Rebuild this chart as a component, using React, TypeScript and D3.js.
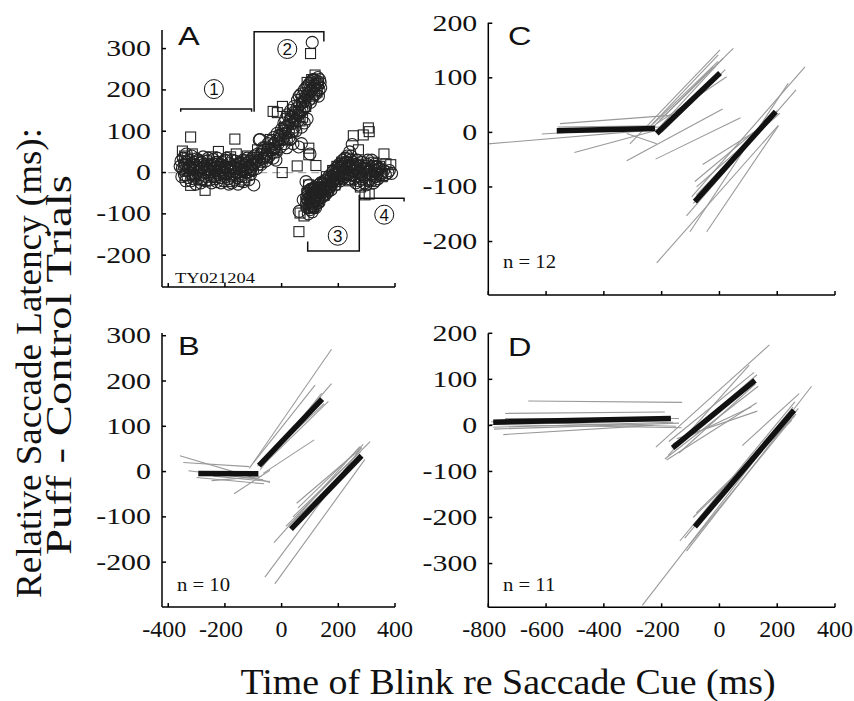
import * as d3 from "d3";

// ---- tick values ----
const xTicksAB = [-400, -200, 0, 200, 400];
const xTicksCD = [-800, -600, -400, -200, 0, 200, 400];
const yTicksA = [300, 200, 100, 0, -100, -200];
const yTicksB = [300, 200, 100, 0, -100, -200];
const yTicksC = [200, 100, 0, -100, -200];
const yTicksD = [200, 100, 0, -100, -200, -300];

// ---- panel A: single session scatter (x = blink time, y = latency diff) ----
const aCircles: [number, number][] = [
  [-355, 28], [-350, 10], [-347, 35], [-343, -5], [-340, 20], [-336, 45], [-333, 5], [-330, -12], [-327, 30], [-324, 15],
  [-320, -20], [-317, 40], [-313, 8], [-310, 25], [-306, -8], [-303, 18], [-300, 33], [-296, -15], [-292, 5], [-289, 22],
  [-285, -25], [-281, 12], [-277, 38], [-273, 0], [-270, 15], [-265, -10], [-261, 28], [-257, 6], [-253, -18], [-249, 20],
  [-245, 2], [-241, 32], [-237, -8], [-233, 14], [-229, -22], [-225, 25], [-221, 4], [-216, -12], [-212, 18], [-208, 8],
  [-204, -20], [-200, 30], [-196, 0], [-192, 12], [-188, -15], [-184, 22], [-180, 5], [-176, -25], [-172, 15], [-168, -5],
  [-164, 28], [-160, 10], [-156, -12], [-152, 20], [-148, 2], [-144, -20], [-140, 15], [-136, 30], [-132, 5], [-128, -10],
  [-124, 22], [-120, 12], [-116, -18], [-112, 28], [-108, 8], [-104, 35], [-98, -30],
  [-358, 15], [-352, -10], [-345, 5], [-338, -20], [-335, 25], [-329, 12], [-322, -2], [-318, 22], [-311, -15], [-307, 10],
  [-302, -28], [-298, 0], [-294, 30], [-287, -5], [-283, 25], [-279, -15], [-275, 20], [-268, -20], [-263, 10], [-259, 35],
  [-255, -5], [-251, 15], [-247, -25], [-243, 10], [-239, 20], [-235, -15], [-231, 5], [-227, 35], [-223, -5], [-218, 12],
  [-214, -25], [-210, 25], [-206, 0], [-202, 15], [-198, -10], [-194, 35], [-190, 5], [-186, -28], [-182, 12], [-178, -8],
  [-174, 30], [-170, 2], [-166, -18], [-162, 18], [-158, 0], [-154, -28], [-150, 10], [-146, 25], [-142, -8], [-138, 5],
  [-134, -22], [-130, 18], [-126, 0], [-122, 35], [-118, 2], [-114, 15], [-110, -5], [-106, 20], [-102, 5],
  [-100, 18], [-96, 40], [-92, 25], [-88, 10], [-84, 45], [-80, 30], [-76, 80], [-72, 20], [-68, 50], [-64, 35],
  [-60, 60], [-56, 28], [-52, 45], [-48, 70], [-44, 40], [-40, 55], [-36, 65], [-32, 48], [-28, 85], [-24, 60],
  [-20, 75], [-16, 95], [-12, 70], [-8, 90], [-4, 62], [0, 105], [4, 80], [8, 120], [12, 95], [16, 110],
  [20, 140], [24, 100], [28, 125], [32, 150], [36, 118], [40, 135], [44, 160], [48, 128], [52, 145], [56, 175],
  [60, 140], [64, 165], [68, 190], [72, 150], [76, 170], [80, 200], [84, 160], [88, 185], [92, 210], [96, 175],
  [100, 195], [104, 220], [108, 180], [112, 205], [116, 225], [120, 190], [124, 215], [128, 230], [132, 200], [136, 218],
  [-20, 30], [10, 70], [30, 80], [50, 100], [70, 110], [90, 130], [60, 62], [100, 45], [108, 315], [-79, 79],
  [-90, 35], [-82, 20], [-74, 45], [-66, 60], [-58, 40], [-50, 55], [-42, 75], [-34, 55], [-26, 70], [-18, 50],
  [-10, 80], [-2, 85], [6, 100], [14, 130], [22, 115], [26, 85], [34, 135], [38, 100], [42, 145], [46, 110],
  [54, 155], [58, 125], [62, 185], [66, 145], [74, 185], [78, 155], [82, 175], [86, 205], [94, 190], [98, 215],
  [102, 170], [106, 200], [110, 225], [114, 190], [118, 210], [122, 200], [126, 220], [130, 185], [134, 225], [138, 205],
  [18, 60], [40, 70], [-30, 35], [80, 120], [70, 70],
  [86, -22], [88, -60], [90, -85], [92, -45], [94, -100], [96, -70], [98, -30], [100, -90], [102, -55], [104, -75],
  [106, -40], [108, -95], [110, -62], [112, -80], [114, -50], [116, -70], [118, -35], [120, -85], [122, -58], [124, -45],
  [126, -68], [128, -52], [130, -30], [132, -72], [135, -48], [138, -25], [141, -60], [144, -40], [147, -55], [150, -20],
  [153, -45], [156, -30], [159, -50], [162, -15], [165, -35], [168, -8], [171, -28], [174, -42], [177, -10], [180, -22],
  [183, 5], [186, -15], [189, -30], [192, 2], [195, -12], [198, 15], [201, -5], [204, 10], [207, -20], [210, 20],
  [213, 0], [216, 30], [219, 8], [222, -10], [225, 25], [228, 12], [231, 40], [234, -5], [237, 18], [240, 50],
  [243, 30], [246, 5], [249, 68], [252, 20], [255, -15], [62, -94], [76, -66],
  [88, -75], [91, -65], [95, -50], [97, -85], [99, -60], [101, -75], [103, -40], [105, -62], [107, -80], [109, -50],
  [111, -70], [113, -40], [115, -85], [117, -55], [119, -65], [121, -45], [123, -75], [125, -55], [127, -38], [129, -62],
  [131, -45], [134, -60], [137, -38], [140, -50], [143, -28], [146, -45], [149, -35], [152, -55], [155, -20], [158, -38],
  [161, -28], [164, -45], [167, -20], [170, -35], [173, -15], [176, -30], [179, 0], [182, -20], [185, -5], [188, -18],
  [191, 10], [194, -20], [197, 0], [200, -15], [203, 20], [206, 5], [209, -8], [212, 15], [215, -15], [218, 20],
  [221, 0], [224, 35], [227, -5], [230, 15], [233, 25], [236, 0], [239, -15], [242, 15], [245, 40], [248, -5],
  [251, 25], [254, 5],
  [258, 10], [262, -25], [266, 30], [270, 0], [274, -20], [278, 15], [282, -5], [286, 25], [290, -10], [294, 8],
  [298, -30], [302, 20], [306, 0], [310, -15], [314, 12], [318, 30], [322, -8], [326, 5], [330, -20], [334, 15],
  [338, -2], [342, 8], [350, -5], [360, 5], [375, 0], [388, -2],
  [256, -5], [260, 20], [264, -10], [268, 10], [272, -30], [276, 5], [280, 25], [284, -15], [288, 10], [292, -25],
  [296, 15], [300, -5], [304, 30], [308, -20], [312, 5], [316, -5], [320, 15], [324, -25], [328, 20], [332, -10],
  [336, 5], [340, -15], [346, 10], [354, 0], [366, -5], [380, 5],
];

const aSquares: [number, number][] = [
  [-350, 52], [-345, 20], [-340, -8], [-333, 35], [-325, 10], [-321, 86], [-321, -31], [-315, 45], [-305, -5], [-298, 28],
  [-290, 12], [-282, -18], [-270, -43], [-262, 20], [-255, 5], [-245, 38], [-235, -12], [-223, 51], [-215, 15], [-205, -5],
  [-195, 30], [-185, -22], [-175, 8], [-165, 81], [-160, 45], [-150, -10], [-140, 25], [-130, -18], [-120, 40], [-112, 5],
  [-105, 20], [-342, 40], [-310, 15], [-278, 30], [-248, -8], [-228, 22], [-200, 10], [-180, 38], [-145, 0], [-125, 30],
  [-95, 30], [-85, 55], [-75, 25], [-65, 45], [-50, 35], [-40, 80], [-30, 148], [-25, 60], [-15, 145], [-5, 90],
  [3, 160], [2, 0], [10, 110], [20, 80], [30, 130], [40, 100], [50, 120], [55, 16], [60, 150], [70, 170],
  [74, 134], [80, 180], [85, 160], [90, 218], [96, 59], [96, 43], [100, 200], [106, 225], [110, 185], [115, 210],
  [121, 17], [102, 288], [125, 195], [130, 215], [-20, 55], [15, 95], [45, 140], [65, 125], [118, 236],
  [61, -143], [65, -98], [79, -105], [86, -78], [90, -50], [95, -30], [100, -65], [105, -85], [110, -40], [112, -82],
  [118, -60], [125, -35], [130, -70], [138, -45], [145, -25], [150, -55], [158, -10], [165, -40], [172, -20], [180, 5],
  [188, -30], [195, 15], [205, -15], [212, 25], [220, -5], [230, 35], [240, -20], [253, 89], [271, 55], [245, 15],
  [260, -10], [268, 20], [278, -35], [288, 91], [306, 108], [309, 99], [294, -54], [309, -52], [300, 10], [315, -20],
  [325, 25], [335, -5], [345, 15], [361, 45], [368, 21], [385, 19], [355, -10], [330, 0],
];

// bracket outlines marking the four epochs
const brackets: [number, number][][] = [
  [[-356, 147], [-356, 154], [-106, 154], [-106, 147]],
  [[-97, 147], [-97, 341], [149, 341], [149, 317]],
  [[92, -167], [92, -190], [274, -190], [274, -54]],
  [[276, -62], [432, -62], [432, -70]],
];
const epochLabels = ["1", "2", "3", "4"];
const epochPos: [number, number][] = [[-239, 202], [20, 299], [198, -153], [362, -102]];

// ---- regression segments: [x1, y1, x2, y2] ----
const bMean = [
  [-294, -4, -82, -5],
  [-80, 13, 143, 160],
  [33, -127, 282, 35],
];
const bSubjects = [
  [-359, 35, -41, -24], [-347, 20, -114, 11], [-329, 2, -65, -18], [-247, -20, -71, -11],
  [-241, -10, -41, -22], [-168, -49, -41, 3], [-300, -13, -62, -27],
  [-114, 7, 176, 270], [-100, 19, 118, 191], [-76, 11, 176, 194], [-65, 15, 165, 155],
  [-76, 4, 141, 173], [-65, -4, 115, 70], [-85, 12, 150, 150],
  [-59, -233, 282, 54], [-24, -248, 294, 27], [-27, -157, 276, 55], [15, -121, 312, 66],
  [53, -70, 282, 52], [58, -80, 288, 60], [40, -100, 280, 45], [25, -120, 270, 30],
];

const cMean = [
  [-563, 3, -223, 7],
  [-217, -2, 2, 109],
  [-85, -127, 195, 38],
];
const cSubjects = [
  [-552, 16, -148, 32], [-615, -3, -206, 10], [-502, -37, -217, 4], [-321, -2, -217, -21],
  [-800, -21, -217, 5], [-560, 10, -220, 12],
  [-310, -21, 2, 151], [-229, 10, 48, 154], [-217, 4, 13, 136], [-217, 16, 25, 102],
  [-206, 23, -21, 120], [-321, -52, 11, 43], [-221, -49, 73, 27], [-252, 4, -4, 142],
  [-200, 0, 20, 115], [-230, 15, -5, 130],
  [-58, -59, 163, 15], [-96, -118, 296, 120], [-217, -239, 204, 13], [-102, -182, 238, 90],
  [-44, -182, 204, 12], [-114, -153, 265, 78], [-79, -100, 209, 35], [-85, -90, 186, 30],
  [-80, -115, 200, 40], [-90, -130, 190, 30],
];

const dMean = [
  [-783, 7, -168, 15],
  [-162, -49, 123, 98],
  [-85, -220, 258, 33],
];
const dSubjects = [
  [-794, 2, -131, -5], [-783, -4, -160, 7], [-742, 15, -140, 15], [-748, -20, -229, 0],
  [-662, 53, -129, 50], [-742, 26, -189, 29], [-790, 8, -150, -2], [-780, -8, -140, 5],
  [-220, -47, 173, 175], [-183, -75, 129, 49], [-177, -65, 103, 131], [-189, -73, 134, 85],
  [-165, -50, 130, 110], [-175, -35, 120, 115], [-148, -29, 131, 31], [-160, -40, 110, 40],
  [-140, -60, 125, 90],
  [-267, -391, 319, 85], [79, -44, 276, 69], [-137, -251, 261, 51], [-114, -273, 273, 37],
  [-120, -245, 255, 40], [-91, -200, 250, 11], [-80, -190, 260, 20], [-105, -260, 265, 25],
];

const SERIF = "'Times New Roman', 'Liberation Serif', Tinos, Times, 'Nimbus Roman', FreeSerif, serif";
const SANS = "Arial, 'Liberation Sans', Helvetica, sans-serif";

const xAB = () => d3.scaleLinear().domain([-422, 400]).range([162, 395]);
const xCD = () => d3.scaleLinear().domain([-800, 400]).range([488.3, 835]);

const panels = {
  A: { x: xAB(), y: d3.scaleLinear().domain([-277, 345]).range([287, 30]) },
  B: { x: xAB(), y: d3.scaleLinear().domain([-299, 306]).range([607, 333]) },
  C: { x: xCD(), y: d3.scaleLinear().domain([-298, 201]).range([295, 22.7]) },
  D: { x: xCD(), y: d3.scaleLinear().domain([-395, 200]).range([607.3, 333.3]) },
};

type Scale = d3.ScaleLinear<number, number>;

function Axes({ x, y, xTicks, yTicks, xLabels }: { x: Scale; y: Scale; xTicks: number[]; yTicks: number[]; xLabels: boolean }) {
  const [x0, x1] = x.range();
  const [yb, yt] = y.range();
  return (
    <g stroke="#000" strokeWidth={1.5}>
      <line x1={x0} x2={x0} y1={yt} y2={yb} />
      <line x1={x0} x2={x1} y1={yb} y2={yb} />
      {yTicks.map((t) => (
        <g key={"y" + t}>
          <line x1={x0} x2={x0 + 4} y1={y(t)} y2={y(t)} />
          <text
            stroke="none"
            fill="#111"
            style={{ fontFamily: SERIF }}
            fontSize={23}
            textAnchor="end"
            transform={`translate(${x0 - 11},${y(t) + 7.5}) scale(1.3,1)`}
          >
            {String(t)}
          </text>
        </g>
      ))}
      {xTicks.map((t) => (
        <g key={"x" + t}>
          <line x1={x(t)} x2={x(t)} y1={yb} y2={yb - 4} />
          {xLabels && (
            <text
              stroke="none"
              fill="#111"
              style={{ fontFamily: SERIF }}
              fontSize={24}
              textAnchor="middle"
              x={x(t) - (t < 0 ? 4 : 0)}
              y={637}
            >
              {String(t)}
            </text>
          )}
        </g>
      ))}
    </g>
  );
}

function Segments({ x, y, gray, mean }: { x: Scale; y: Scale; gray: number[][]; mean: number[][] }) {
  return (
    <g>
      {gray.map((s, i) => (
        <line key={"g" + i} x1={x(s[0])} y1={y(s[1])} x2={x(s[2])} y2={y(s[3])} stroke="#999" strokeWidth={1.1} />
      ))}
      {mean.map((s, i) => (
        <line key={"m" + i} x1={x(s[0])} y1={y(s[1])} x2={x(s[2])} y2={y(s[3])} stroke="#111" strokeWidth={5.5} />
      ))}
    </g>
  );
}

function PanelLetter({ x, y, t }: { x: number; y: number; t: string }) {
  return (
    <text style={{ fontFamily: SANS }} fontSize={25} fill="#111" transform={`translate(${x},${y}) scale(1.3,1)`}>
      {t}
    </text>
  );
}

function NLabel({ x, y, t }: { x: number; y: number; t: string }) {
  return (
    <text style={{ fontFamily: SERIF }} fontSize={18} fill="#111" transform={`translate(${x},${y}) scale(1.15,1)`}>
      {t}
    </text>
  );
}

export default function App() {
  const A = panels.A;
  const line = d3
    .line<[number, number]>()
    .x((d) => A.x(d[0]))
    .y((d) => A.y(d[1]));
  return (
    <svg width={854} height={701} style={{ position: "absolute", left: 0, top: 0, background: "#fff" }}>
      <rect width={854} height={701} fill="#fff" />

      {/* Panel A */}
      <line x1={A.x(-400)} x2={A.x(400)} y1={A.y(0)} y2={A.y(0)} stroke="#aaa" strokeWidth={1.3} strokeDasharray="8,5" />
      <g fill="none" stroke="#222" strokeWidth={1.1}>
        {aCircles.map((d, i) => (
          <circle key={"c" + i} cx={A.x(d[0])} cy={A.y(d[1])} r={6} />
        ))}
        {aSquares.map((d, i) => (
          <rect key={"s" + i} x={A.x(d[0]) - 5} y={A.y(d[1]) - 5} width={10} height={10} />
        ))}
      </g>
      <g fill="none" stroke="#111" strokeWidth={1.5}>
        {brackets.map((b, i) => (
          <path key={i} d={line(b) || ""} />
        ))}
      </g>
      {epochLabels.map((t, i) => (
        <g key={t}>
          <circle cx={A.x(epochPos[i][0])} cy={A.y(epochPos[i][1])} r={9.5} fill="#fff" stroke="#111" strokeWidth={1} />
          <text
            x={A.x(epochPos[i][0])}
            y={A.y(epochPos[i][1]) + 6}
            textAnchor="middle"
            style={{ fontFamily: SANS }}
            fontSize={17}
            fill="#111"
          >
            {t}
          </text>
        </g>
      ))}
      <Axes x={A.x} y={A.y} xTicks={xTicksAB} yTicks={yTicksA} xLabels={false} />
      <PanelLetter x={178} y={45} t="A" />
      <text style={{ fontFamily: SERIF }} fontSize={15} fill="#111" x={175} y={283} textLength={80} lengthAdjust="spacingAndGlyphs">
        TY021204
      </text>

      {/* Panel B */}
      <Segments x={panels.B.x} y={panels.B.y} gray={bSubjects} mean={bMean} />
      <Axes x={panels.B.x} y={panels.B.y} xTicks={xTicksAB} yTicks={yTicksB} xLabels={true} />
      <PanelLetter x={178} y={355} t="B" />
      <NLabel x={177} y={591} t="n = 10" />

      {/* Panel C */}
      <Segments x={panels.C.x} y={panels.C.y} gray={cSubjects} mean={cMean} />
      <Axes x={panels.C.x} y={panels.C.y} xTicks={xTicksCD} yTicks={yTicksC} xLabels={false} />
      <PanelLetter x={508} y={45} t="C" />
      <NLabel x={503} y={268} t="n = 12" />

      {/* Panel D */}
      <Segments x={panels.D.x} y={panels.D.y} gray={dSubjects} mean={dMean} />
      <Axes x={panels.D.x} y={panels.D.y} xTicks={xTicksCD} yTicks={yTicksD} xLabels={true} />
      <PanelLetter x={508} y={356} t="D" />
      <NLabel x={503} y={591} t="n = 11" />

      {/* axis titles */}
      <text
        style={{ fontFamily: SERIF }}
        fontSize={36}
        fill="#111"
        textAnchor="middle"
        x={508}
        y={694}
        textLength={535}
        lengthAdjust="spacingAndGlyphs"
      >
        Time of Blink re Saccade Cue (ms)
      </text>
      <text
        style={{ fontFamily: SERIF }}
        fontSize={35}
        fill="#111"
        textAnchor="middle"
        transform="translate(41,363) rotate(-90)"
        textLength={470}
        lengthAdjust="spacingAndGlyphs"
      >
        Relative Saccade Latency (ms):
      </text>
      <text
        style={{ fontFamily: SERIF }}
        fontSize={35}
        fill="#111"
        textAnchor="middle"
        transform="translate(71,365) rotate(-90)"
        textLength={380}
        lengthAdjust="spacingAndGlyphs"
      >
        Puff - Control Trials
      </text>
    </svg>
  );
}
